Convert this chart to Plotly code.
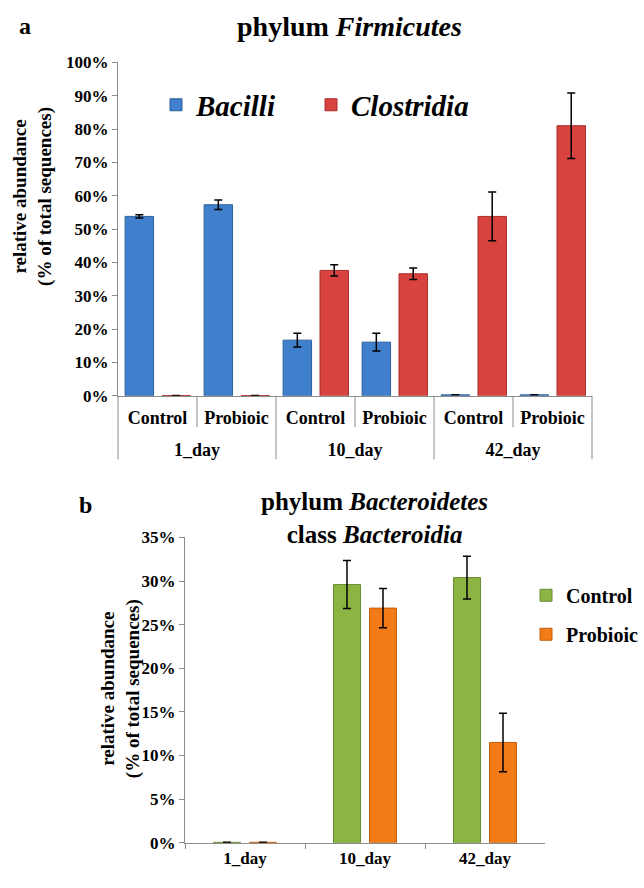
import plotly.graph_objects as go

# panel a: phylum Firmicutes
days = ["1_day", "10_day", "42_day"]
groups = ["Control", "Probioic"]
bacilli = [53.8, 57.3, 16.7, 16.1, 0.3, 0.3]
bacilli_err = [0.5, 1.4, 2.05, 2.65, 0, 0]
clostridia = [0.1, 0.1, 37.6, 36.6, 53.8, 81.0]
clostridia_err = [0, 0, 1.7, 1.7, 7.3, 9.8]

# panel b: class Bacteroidia
bact_control = [0.05, 29.6, 30.4]
bact_control_err = [0, 2.75, 2.45]
bact_probioic = [0.05, 26.9, 11.5]
bact_probioic_err = [0, 2.25, 3.35]

FONT = "Liberation Serif"
GREY = "#8c8c8c"
W, H = 644, 888


def bold(size):
    return dict(family=FONT, size=size, color="black", weight="bold")


def px_x(x):
    return x / W


def px_y(y):
    return 1 - y / H


n_cells = len(days) * len(groups)
cell_pos = list(range(n_cells))
cell_labels = [g for _ in days for g in groups]
day_pos = [i * len(groups) + (len(groups) - 1) / 2 for i in range(len(days))]

fig = go.Figure()
err = dict(type="data", color="black", thickness=1.5, width=4)

fig.add_trace(go.Bar(
    x=cell_pos, y=bacilli, name="<i>Bacilli</i>",
    error_y=dict(array=bacilli_err, **err),
    marker=dict(color="#3f7fcc", line=dict(color="#2c5f9e", width=1)),
    width=0.36, offset=-0.41, xaxis="x", yaxis="y", legend="legend4",
))
fig.add_trace(go.Bar(
    x=cell_pos, y=clostridia, name="<i>Clostridia</i>",
    error_y=dict(array=clostridia_err, **err),
    marker=dict(color="#d9433f", line=dict(color="#a82e2b", width=1)),
    width=0.36, offset=0.057, xaxis="x", yaxis="y", legend="legend3",
))
# carrier for the day labels of panel a
fig.add_trace(go.Scatter(x=[], y=[], xaxis="x3", yaxis="y",
                         showlegend=False, hoverinfo="skip"))

fig.add_trace(go.Bar(
    x=days, y=bact_control, name="Control", legendgroup="ctl",
    error_y=dict(array=bact_control_err, **err),
    marker=dict(color="#8cb443", line=dict(color="#6a8c30", width=1)),
    width=0.225, offset=-0.2625, xaxis="x2", yaxis="y2", legend="legend2",
))
fig.add_trace(go.Bar(
    x=days, y=bact_probioic, name="Probioic", legendgroup="pro",
    error_y=dict(array=bact_probioic_err, **err),
    marker=dict(color="#f27a17", line=dict(color="#c25e0c", width=1)),
    width=0.225, offset=0.0375, xaxis="x2", yaxis="y2", legend="legend2",
))

# table lines under panel a
shapes = []
for i in range(n_cells + 1):
    shapes.append(dict(
        type="line", xref="x domain", yref="y domain",
        x0=i / n_cells, x1=i / n_cells, y0=0,
        y1=-0.19 if i % len(groups) == 0 else -0.094,
        line=dict(color=GREY, width=1),
    ))

top_ticks = list(range(0, 101, 10))
bot_ticks = list(range(0, 36, 5))
xr = [-0.5, n_cells - 0.5]
ytitle = "relative abundance<br>(% of total sequences)"
top_legend = dict(orientation="h", yanchor="middle", xanchor="left",
                  y=px_y(98), font=bold(29), bgcolor="rgba(0,0,0,0)")

fig.update_layout(
    width=W, height=H,
    margin=dict(l=0, r=0, t=0, b=0),
    plot_bgcolor="white", paper_bgcolor="white",
    barmode="overlay", showlegend=True,
    font=dict(family=FONT, color="black"),
    xaxis=dict(
        domain=[px_x(118), px_x(592)], anchor="y", range=xr,
        tickvals=cell_pos, ticktext=cell_labels, ticks="",
        ticklabelstandoff=6,
        showline=True, linecolor=GREY, showgrid=False, zeroline=False,
        tickfont=bold(18),
    ),
    xaxis3=dict(
        overlaying="x", anchor="free", position=px_y(437), range=xr,
        tickvals=day_pos, ticktext=days, ticks="", showline=False,
        showgrid=False, zeroline=False, tickfont=bold(18),
    ),
    yaxis=dict(
        domain=[px_y(395.3), px_y(54.5)], anchor="x", range=[0, 100],
        tickvals=top_ticks, ticktext=[f"{v}%" for v in top_ticks],
        showline=True, linecolor=GREY, ticks="outside", ticklen=5,
        tickcolor=GREY, showgrid=False, zeroline=False, tickfont=bold(17),
    ),
    xaxis2=dict(
        domain=[px_x(185), px_x(545)], anchor="y2",
        showline=True, linecolor=GREY, ticks="outside", ticklen=5,
        tickcolor=GREY, tickson="boundaries", tickfont=bold(17),
    ),
    yaxis2=dict(
        domain=[px_y(852), px_y(540)], anchor="x2", range=[0, 35],
        tickvals=bot_ticks, ticktext=[f"{v}%" for v in bot_ticks],
        showline=True, linecolor=GREY, ticks="outside", ticklen=5,
        tickcolor=GREY, showgrid=False, zeroline=False, tickfont=bold(17),
    ),
    legend4=dict(top_legend, x=px_x(156)),
    legend3=dict(top_legend, x=px_x(311)),
    legend2=dict(
        x=px_x(526), y=px_y(619), xanchor="left", yanchor="middle",
        font=bold(20), bgcolor="rgba(0,0,0,0)", tracegroupgap=10,
    ),
    shapes=shapes,
    annotations=[
        dict(text="a", x=px_x(24.5), y=px_y(17), xanchor="center",
             yanchor="middle", font=bold(24)),
        dict(text="phylum <i>Firmicutes</i>", x=px_x(349), y=px_y(18),
             xanchor="center", yanchor="middle", font=bold(28)),
        dict(text="b", x=px_x(85.5), y=px_y(507), xanchor="center",
             yanchor="middle", font=bold(24)),
        dict(text="phylum <i>Bacteroidetes</i><br>class <i>Bacteroidia</i>",
             x=px_x(374), y=px_y(520), xanchor="center", yanchor="middle",
             font=bold(25)),
        dict(text=ytitle, x=px_x(33), y=px_y(192), textangle=-90,
             xanchor="center", yanchor="middle", font=bold(19)),
        dict(text=ytitle, x=px_x(120), y=px_y(695), textangle=-90,
             xanchor="center", yanchor="middle", font=bold(19)),
    ],
)
for a in fig.layout.annotations:
    a.update(xref="paper", yref="paper", showarrow=False)

fig.write_html(
    "out.html",
    config={"displayModeBar": False},
    post_script="document.body.style.margin='0';",
)
